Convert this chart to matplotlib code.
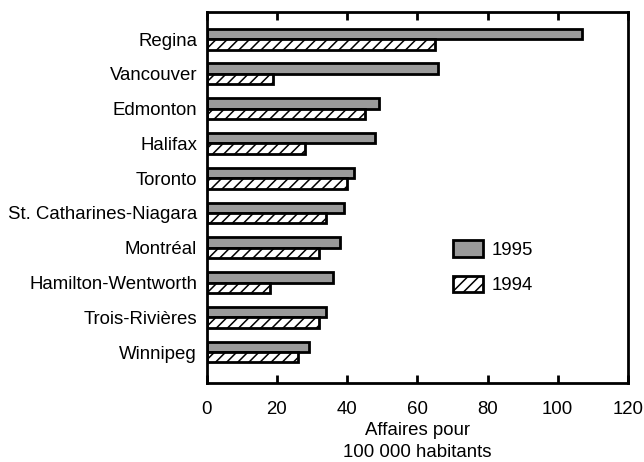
import matplotlib.pyplot as plt
import numpy as np
from matplotlib.patches import Patch

plt.rcParams['font.family'] = ['Liberation Sans', 'DejaVu Sans']
plt.rcParams['hatch.linewidth'] = 1.1

cities = ["Regina", "Vancouver", "Edmonton", "Halifax", "Toronto",
          "St. Catharines-Niagara", "Montréal", "Hamilton-Wentworth",
          "Trois-Rivières", "Winnipeg"]
val_1995 = [107, 66, 49, 48, 42, 39, 38, 36, 34, 29]
val_1994 = [65, 19, 45, 28, 40, 34, 32, 18, 32, 26]
xticks = [0, 20, 40, 60, 80, 100, 120]

fs = 13.4

fig = plt.figure(figsize=(6.44, 4.62), dpi=100)
ax = fig.add_axes([0.321, 0.171, 0.654, 0.803])

y = np.arange(len(cities))
h = 0.30
gray = '#9a9a9a'
ax.barh(y - h / 2, val_1995, height=h, color=gray, edgecolor='black', linewidth=2, label='1995')
ax.barh(y + h / 2, val_1994, height=h, color='white', edgecolor='black', linewidth=2,
        hatch='///', label='1994')

ax.set_xlim(0, 120)
ax.set_ylim(9 + 0.89, -0.78)
ax.set_xticks(xticks)
ax.set_yticks(y)
ax.set_yticklabels(cities, fontsize=fs)
ax.tick_params(axis='y', length=0, pad=7)
ax.tick_params(axis='x', direction='in', length=6, width=2, labelsize=fs, pad=13,
               top=True, bottom=True)
for s in ax.spines.values():
    s.set_linewidth(2)

ax.set_xlabel("Affaires pour\n100 000 habitants", fontsize=fs, linespacing=1.4, labelpad=3)

handles = [Patch(facecolor=gray, edgecolor='black', linewidth=2, label='1995'),
           Patch(facecolor='white', edgecolor='black', linewidth=2, hatch='///', label='1994')]
ax.legend(handles=handles, loc='upper left', bbox_to_anchor=(0.584, 0.385), frameon=False,
          fontsize=fs, handlelength=1.65, handleheight=1.0, labelspacing=0.9, handletextpad=0.45,
          borderaxespad=0, borderpad=0)

fig.savefig("out.png", dpi=100)
